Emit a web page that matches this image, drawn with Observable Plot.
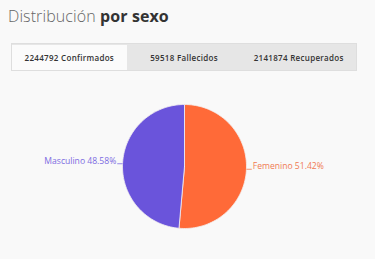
<!DOCTYPE html>
<html>
<head>
<meta charset="utf-8">
<script src="https://cdn.jsdelivr.net/npm/d3@7"></script>
<script src="https://cdn.jsdelivr.net/npm/@observablehq/plot@0.6"></script>
<style>
  html, body { margin: 0; padding: 0; background: #f9f9f9; width: 375px; height: 259px; overflow: hidden; }
  #header { position: relative; height: 80px; font-family: "Open Sans", sans-serif; }
  #title { position: absolute; left: 8px; top: 5px; font-size: 16px; color: #666; font-weight: 300; letter-spacing: 0.1px; }
  #title b { color: #333; font-weight: 700; }
  #tabs { position: absolute; left: 11px; top: 43px; width: 346px; height: 28px; background: #e6e6e6; border: 1px solid #dedede; box-sizing: border-box; display: flex; }
  .tab { flex: 1; display: flex; align-items: center; justify-content: center; font-size: 8px; font-weight: 600; color: #333; letter-spacing: 0.3px; }
  .tab.active { background: #fbfbfb; margin-top: 1px; }
  #chart svg { display: block; }
</style>
</head>
<body>
<div id="header">
  <div id="title">Distribución <b>por sexo</b></div>
  <div id="tabs"></div>
</div>
<div id="chart"></div>
<script>
const sexes = ["Femenino", "Masculino"];
const percents = [51.42, 48.58];
const sliceColors = ["#ff6a38", "#6a54db"];
const labelColors = ["#f07a52", "#7d6ce2"];
const tabLabels = ["2244792 Confirmados", "59518 Fallecidos", "2141874 Recuperados"];

// tabs
const tabsEl = document.getElementById("tabs");
tabLabels.forEach((t, i) => {
  const d = document.createElement("div");
  d.className = "tab" + (i === 0 ? " active" : "");
  d.textContent = t;
  tabsEl.appendChild(d);
});

const rows = sexes.map((s, i) => ({sex: s, pct: percents[i]}));
const arcs = d3.pie().sort(null).value(d => d.pct)(rows);

// slice outlines (geometry sampling of each arc)
const polys = [];
arcs.forEach(a => {
  const s = a.data.sex;
  polys.push({sex: s, x: 0, y: 0});
  const n = 90;
  for (let k = 0; k <= n; k++) {
    const t = a.startAngle + (a.endAngle - a.startAngle) * k / n;
    polys.push({sex: s, x: Math.sin(t), y: Math.cos(t)});
  }
  polys.push({sex: s, x: 0, y: 0});
});

const labels = arcs.map(a => {
  const m = (a.startAngle + a.endAngle) / 2;
  const side = Math.sin(m) >= 0 ? 1 : -1;
  return {
    sex: a.data.sex,
    text: `${a.data.sex} ${a.data.pct.toFixed(2)}%`,
    x1: Math.sin(m), y1: Math.cos(m),
    x2: side * 1.085, y2: Math.cos(m),
    tx: side * 1.1,
    anchor: side > 0 ? "start" : "end"
  };
});

const plot = Plot.plot({
  width: 375,
  height: 179,
  x: {domain: [-1, 1], range: [122, 246], axis: null},
  y: {domain: [-1, 1], range: [148, 24], axis: null},
  color: {domain: sexes, range: sliceColors},
  style: {background: "transparent", fontFamily: "Open Sans, sans-serif"},
  marks: [
    Plot.line(polys, {x: "x", y: "y", z: "sex", fill: "sex", stroke: "#f4f0f0", strokeWidth: 0.8, curve: "linear"}),
    Plot.link(labels, {x1: "x1", y1: "y1", x2: "x2", y2: "y2", stroke: d => labelColors[sexes.indexOf(d.sex)], strokeWidth: 0.8}),
    Plot.text(labels.filter(d => d.anchor === "start"), {x: "tx", y: "y2", text: "text", textAnchor: "start", dy: -3, fontSize: 8.6, fill: labelColors[0]}),
    Plot.text(labels.filter(d => d.anchor === "end"), {x: "tx", y: "y2", text: "text", textAnchor: "end", dy: -3, fontSize: 8.6, fill: labelColors[1]})
  ]
});
document.getElementById("chart").appendChild(plot);
</script>
</body>
</html>
